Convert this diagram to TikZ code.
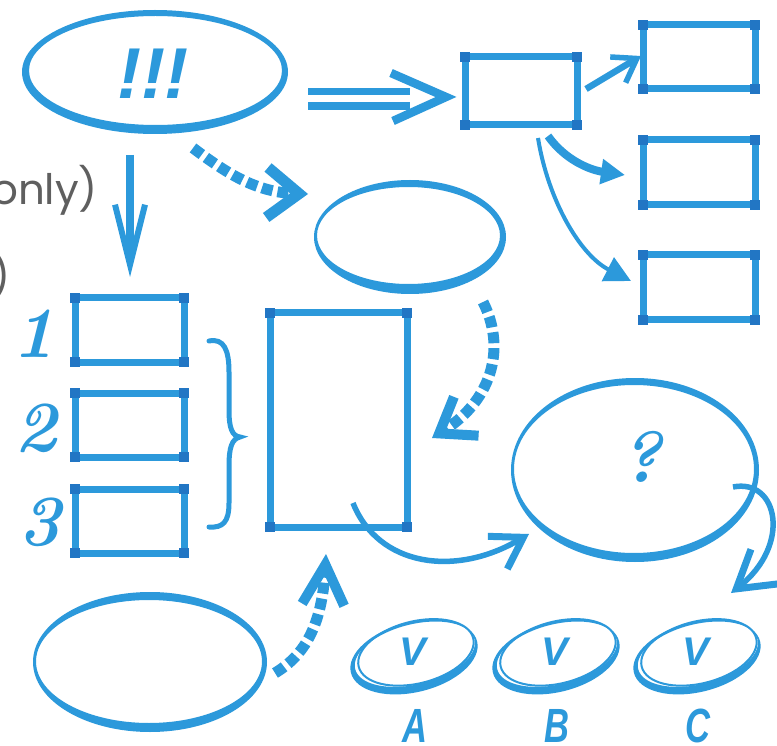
\documentclass[tikz,border=0pt]{standalone}
\usepackage{fontspec}
\usetikzlibrary{arrows.meta}
\newfontfamily\graysans{Poppins}
\newfontfamily\handsans{Liberation Sans}
\definecolor{brush}{RGB}{44,153,219}
\definecolor{brushdark}{RGB}{34,118,196}
\definecolor{txtgray}{RGB}{95,95,95}
\newcommand\boxcorners[1]{%
  \foreach \cc in {north west,north east,south west,south east}{%
    \fill[brushdark] (#1.\cc) ++(-5,-5) rectangle ++(10,10);}}
\begin{document}
\begin{tikzpicture}[x=1pt,y=-1pt,
  sketchbox/.style={draw=brush, line width=7pt, rectangle, inner sep=0pt, outer sep=0pt},
  shaft/.style={draw=brush, line width=7.5pt},
  dashshaft/.style={draw=brush, line width=11pt, dash pattern=on 11pt off 5pt},
  hand/.style={text=brush, inner sep=0pt, font=\handsans\bfseries\itshape},
  graytxt/.style={text=txtgray, inner sep=0pt, font=\graysans\fontsize{42}{42}\selectfont},
  lmhand/.style={text=brush, inner sep=0pt, font=\bfseries\itshape\fontsize{72}{72}\selectfont},
  ring/.style={fill=brush, even odd rule},
]
\useasboundingbox (0,0) rectangle (777,746);
\fill[white] (0,0) rectangle (777,746);

% ---------- gray partial texts ----------
\node[graytxt, anchor=base west] (only) at (-9,205) {only)};
\node[graytxt, anchor=base east] (paren) at (11,291) {)};

% ---------- ellipses (hand-drawn rings) ----------
\coordinate (eTop) at (155,72);
\fill[ring] (eTop) ellipse [x radius=133, y radius=62] (155.5,70.5) ellipse [x radius=126.5, y radius=54.5];
\node[hand, font=\handsans\bfseries\itshape\fontsize{72}{72}\selectfont] (bang) at (153,74) {!!!};

\coordinate (eMid) at (410,237);
\fill[ring] (eMid) ellipse [x radius=96, y radius=57] (408.5,235.5) ellipse [x radius=91.5, y radius=48.5];

\coordinate (eBig) at (635,470);
\fill[ring] (eBig) ellipse [x radius=124, y radius=92] (634,469) ellipse [x radius=120, y radius=84];
\node[lmhand] (qmark) at (641,457) {?};

\coordinate (eLow) at (150,662);
\fill[ring] (eLow) ellipse [x radius=117, y radius=70] (149,661.5) ellipse [x radius=113, y radius=61.5];

% ---------- rectangles ----------
\node[sketchbox, minimum width=112pt, minimum height=68pt] (r0) at (521,91) {};
\node[sketchbox, minimum width=112pt, minimum height=64pt] (rA) at (699,57) {};
\node[sketchbox, minimum width=112pt, minimum height=65pt] (rB) at (699,172.5) {};
\node[sketchbox, minimum width=112pt, minimum height=65pt] (rC) at (699,287.5) {};
\node[sketchbox, minimum width=109pt, minimum height=64pt] (L1) at (129.5,330) {};
\node[sketchbox, minimum width=109pt, minimum height=64pt] (L2) at (129.5,425) {};
\node[sketchbox, minimum width=109pt, minimum height=64pt] (L3) at (129.5,521) {};
\node[sketchbox, minimum width=137pt, minimum height=214pt] (T) at (338.5,420) {};
\foreach \b in {r0,rA,rB,rC,L1,L2,L3,T}{\boxcorners{\b}}

% ---------- numbers and brace ----------
\node[lmhand] (n1) at (34,334) {1};
\node[lmhand] (n2) at (36,428) {2};
\node[lmhand] (n3) at (40,522) {3};
\draw[brush, line width=5pt, line cap=round] (209,341) .. controls (224,338) and (229,350) .. (229,372)
  -- (229,410) .. controls (229,428) and (232,436) .. (240,437)
  .. controls (232,439) and (229,447) .. (229,466) -- (229,503)
  .. controls (229,522) and (223,528) .. (209,527);

% ---------- check rings ----------
\foreach \cx/\nm/\lt in {414/A/A, 556/B/B, 697/C/C}{
  \begin{scope}[shift={(\cx,657)}, rotate=14]
    \fill[ring] (0,0) ellipse [x radius=65, y radius=35] (1.5,-2.5) ellipse [x radius=61.5, y radius=30];
    \draw[brush, line width=2pt] (3,-4) ellipse [x radius=59, y radius=31];
  \end{scope}
  \node[hand, font=\handsans\bfseries\itshape\fontsize{40}{40}\selectfont] (v\nm) at (\cx-1,652) {V};
  \node[hand, font=\handsans\bfseries\itshape\fontsize{48}{48}\selectfont, xscale=0.72, transform shape] (l\nm) at (\cx+1,726) {\lt};
}

% ---------- connectors ----------
% top ellipse -> left stack
\coordinate (aS) at (130,155);
\coordinate (aE) at (130,277);
\draw[shaft, -{Straight Barb[length=60pt,width=30pt,line width=6pt]}] (aS) -- (aE);

% double arrow top ellipse -> r0
\coordinate (d1S) at (308,91.5); \coordinate (d1E) at (410,91.5);
\coordinate (d2S) at (308,106); \coordinate (d2E) at (410,106);
\coordinate (dTip) at (446,97); \coordinate (dArmT) at (391,73); \coordinate (dArmB) at (393,121);
\draw[brush, line width=7pt] (d1S) -- (d1E);
\draw[brush, line width=7.5pt] (d2S) -- (d2E);
\draw[brush, line width=8.5pt, line join=miter] (dArmT) -- (dTip) -- (dArmB);

% r0 -> rA, rB, rC
\coordinate (cS) at (586,89); \coordinate (cE) at (641,56);
\draw[brush, line width=6.5pt, -{Straight Barb[length=22pt,width=30pt,line width=5.5pt]}] (cS) -- (cE);
\coordinate (dS) at (548,136); \coordinate (dE) at (625,175);
\draw[brush, line width=8pt, -{Triangle[length=24pt,width=24pt]}] (dS) .. controls (565,160) and (590,170) .. (dE);
\coordinate (eS) at (538,138); \coordinate (eE) at (631,281);
\draw[brush, line width=4pt, -{Triangle[length=26pt,width=26pt]}] (eS) .. controls (548,200) and (580,255) .. (eE);

% top ellipse -> middle ellipse (dashed)
\coordinate (fS) at (193,148); \coordinate (fE) at (308,194);
\draw[dashshaft, -{Straight Barb[length=32pt,width=50pt,line width=11pt]}] (fS) .. controls (225,172) and (255,192) .. (fE);

% middle ellipse -> tall rect (dashed)
\coordinate (gS) at (483,302); \coordinate (gE) at (432,438);
\draw[dashshaft, -{Straight Barb[length=32pt,width=46pt,line width=10pt]}] (gS) .. controls (505,345) and (495,398) .. (gE);

% bottom ellipse -> tall rect (dashed)
\coordinate (jS) at (275,673); \coordinate (jE) at (326,554);
\draw[dashshaft, -{Straight Barb[length=40pt,width=42pt,line width=10pt]}] (jS) .. controls (305,655) and (322,625) .. (jE);

% tall rect -> big ellipse
\coordinate (hS) at (353,503); \coordinate (hE) at (529,534);
\draw[brush, line width=5.5pt, -{Straight Barb[length=30pt,width=38pt,line width=7pt]}] (hS) .. controls (378,566) and (455,578) .. (hE);

% big ellipse -> C
\coordinate (iS) at (733,487); \coordinate (iE) at (731,593);
\draw[brush, line width=5.5pt, -{Straight Barb[length=36pt,width=44pt,line width=7pt]}] (iS) .. controls (778,478) and (792,545) .. (iE);
\end{tikzpicture}
\end{document}
